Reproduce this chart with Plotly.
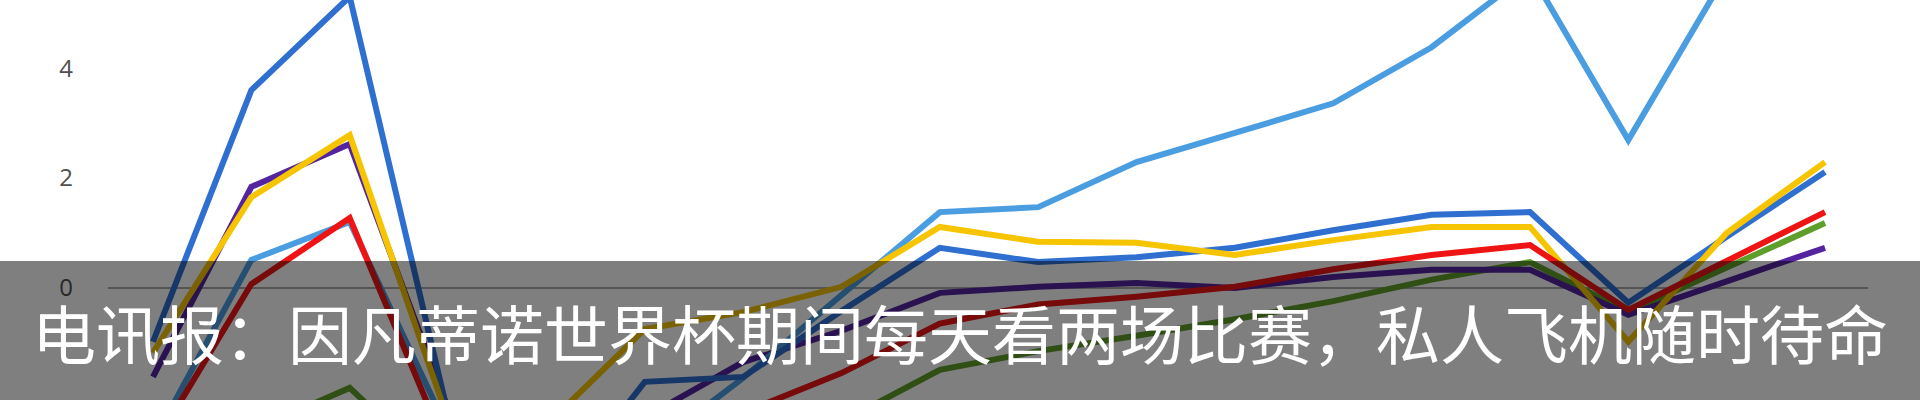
import plotly.graph_objects as go

# x positions (18 time steps, no visible labels)
x_index = list(range(18))

# series values
light_blue = [-2.8, 0.51, 1.2, -2.6, -3.5, -3.0, -1.64, -0.13, 1.38, 1.47, 2.29, 2.82, 3.36, 4.38, 5.75, 2.69, 5.73, 6.0]
dark_blue = [-0.98, 3.6, 5.3, -2.3, -4.0, -1.71, -1.62, -0.42, 0.73, 0.47, 0.56, 0.73, 1.05, 1.33, 1.38, -0.27, 0.93, 2.11]
yellow = [-1.18, 1.65, 2.78, -2.4, -2.5, -0.75, -0.44, 0.02, 1.11, 0.84, 0.82, 0.6, 0.87, 1.11, 1.11, -0.98, 1.0, 2.29]
purple = [-1.62, 1.84, 2.62, -2.2, -3.2, -2.36, -1.35, -0.78, -0.09, 0.02, 0.09, 0.0, 0.2, 0.33, 0.33, -0.49, 0.12, 0.73]
red = [-2.9, 0.07, 1.27, -3.0, -3.8, -3.0, -2.27, -1.55, -0.65, -0.3, -0.16, 0.02, 0.34, 0.6, 0.78, -0.4, 0.49, 1.38]
green = [-3.5, -2.6, -1.82, -3.5, -4.0, -3.3, -3.0, -2.44, -1.49, -1.15, -0.87, -0.57, -0.24, 0.15, 0.47, -0.44, 0.37, 1.18]

y_ticks = [-2, 0, 2, 4]
y_tick_labels = ["-2", "0", "2", "4"]

caption = "电讯报：因凡蒂诺世界杯期间每天看两场比赛，私人飞机随时待命"

series = [
    ("green", green, "#5E9E2A"),
    ("purple", purple, "#5424A0"),
    ("light blue", light_blue, "#4A9DE0"),
    ("dark blue", dark_blue, "#2F6FD0"),
    ("yellow", yellow, "#F7C400"),
    ("red", red, "#EE1414"),
]

fig = go.Figure()
for name, vals, col in series:
    fig.add_trace(go.Scatter(
        x=x_index, y=vals, mode="lines", name=name,
        line=dict(color=col, width=6),
    ))

W, H = 1920, 400
ml, mr = 108, 52
pw = W - ml - mr

fig.update_layout(
    width=W, height=H,
    margin=dict(l=ml, r=mr, t=0, b=0, pad=0),
    paper_bgcolor="white", plot_bgcolor="white",
    showlegend=False,
    xaxis=dict(range=[-0.4575, 17.437], showgrid=False, zeroline=False,
               showticklabels=False, showline=False, automargin=False),
    yaxis=dict(range=[-2.04, 5.24], showgrid=False, zeroline=True,
               zerolinecolor="#a8a8a8", zerolinewidth=2,
               tickvals=y_ticks, ticktext=y_tick_labels,
               ticklabelstandoff=34, automargin=False,
               tickfont=dict(family="Open Sans", size=24, color="#505050"),
               showline=False),
    shapes=[dict(type="rect", xref="paper", yref="paper",
                 x0=-0.2, x1=1.2, y0=-0.2, y1=(H - 261) / H,
                 fillcolor="rgba(0,0,0,0.5)", line=dict(width=0), layer="above")],
    annotations=[dict(text=caption, xref="paper", yref="paper",
                      x=(W / 2 - ml) / pw, y=(H - 331) / H,
                      xanchor="center", yanchor="middle", showarrow=False,
                      font=dict(family="Noto Sans CJK SC", size=64, color="white"))],
)

fig.write_html(
    "out.html",
    config={"displayModeBar": False},
    post_script="document.body.style.margin='0';document.body.style.padding='0';"
                "document.body.style.overflow='hidden';",
)
